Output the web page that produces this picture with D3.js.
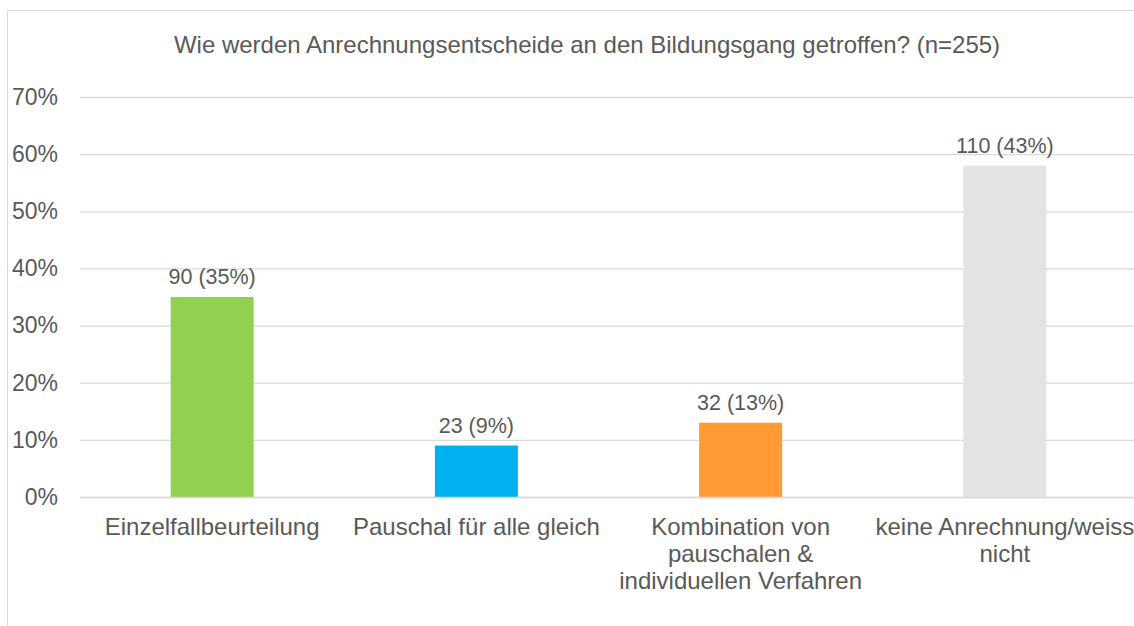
<!DOCTYPE html>
<html>
<head>
<meta charset="utf-8">
<script src="https://cdn.jsdelivr.net/npm/d3@7"></script>
<style>
  body { margin: 0; background: #fff; }
  text { font-family: "Liberation Sans", Arial, sans-serif; fill: #595959; }
</style>
</head>
<body>
<svg width="1134" height="626"></svg>
<script>
// data
const categories = [
    ["Einzelfallbeurteilung"],
    ["Pauschal für alle gleich"],
    ["Kombination von", "pauschalen &", "individuellen Verfahren"],
    ["keine Anrechnung/weiss", "nicht"]
]
const percents = [35, 9, 13, 58]
const barLabels = ["90 (35%)", "23 (9%)", "32 (13%)", "110 (43%)"]
const colors = ["#92d050", "#00b0f0", "#ff9a35", "#e3e3e3"]
const yTicks = [0, 10, 20, 30, 40, 50, 60, 70]

const svg = d3.select("svg")

// outer frame (top and left edges are the only ones in view)
svg.append("path")
    .attr("d", "M7.5,626 V10.5 H1134")
    .attr("fill", "none")
    .attr("stroke", "#d9d9d9")

svg.append("text")
    .attr("x", 587)
    .attr("y", 53)
    .attr("text-anchor", "middle")
    .style("font-size", "24px")
    .text("Wie werden Anrechnungsentscheide an den Bildungsgang getroffen? (n=255)")

const x = d3.scaleBand()
    .domain(d3.range(categories.length))
    .range([80, 1137])
    .paddingInner(0.686)
    .paddingOuter(0.343)

const y = d3.scaleLinear()
    .domain([0, 70])
    .range([497, 97])

const yAxis = svg.append("g")
    .attr("transform", "translate(80,0)")
    .call(d3.axisLeft(y).tickValues(yTicks).tickSize(-1060).tickFormat(d => d + "%"))

yAxis.select(".domain").remove()
yAxis.selectAll("line").attr("stroke", "#d9d9d9").attr("stroke-width", 1.3)
yAxis.selectAll("text")
    .attr("x", -22)
    .style("font-size", "23px")
    .style("fill", "#595959")

const bars = svg.selectAll(".bar")
    .data(percents)
    .enter()
    .append("g")
    .attr("class", "bar")

bars.append("rect")
    .attr("x", (d, i) => x(i))
    .attr("width", x.bandwidth())
    .attr("y", d => y(d))
    .attr("height", d => y(0) - y(d))
    .attr("fill", (d, i) => colors[i])

bars.append("text")
    .attr("x", (d, i) => x(i) + x.bandwidth() / 2)
    .attr("y", d => y(d) - 13)
    .attr("text-anchor", "middle")
    .style("font-size", "21.5px")
    .text((d, i) => barLabels[i])

// axis line at 0 drawn over the bars' feet
svg.append("line")
    .attr("x1", 80).attr("x2", 1140)
    .attr("y1", y(0) + 0.5).attr("y2", y(0) + 0.5)
    .attr("stroke", "#d9d9d9")
    .attr("stroke-width", 1.5)

const catText = svg.selectAll(".cat")
    .data(categories)
    .enter()
    .append("text")
    .attr("class", "cat")
    .attr("text-anchor", "middle")
    .style("font-size", "24px")

catText.selectAll("tspan")
    .data((d, i) => d.map(line => ({ line, i })))
    .enter()
    .append("tspan")
    .attr("x", d => x(d.i) + x.bandwidth() / 2)
    .attr("y", (d, j) => 535 + j * 27)
    .text(d => d.line)
</script>
</body>
</html>
